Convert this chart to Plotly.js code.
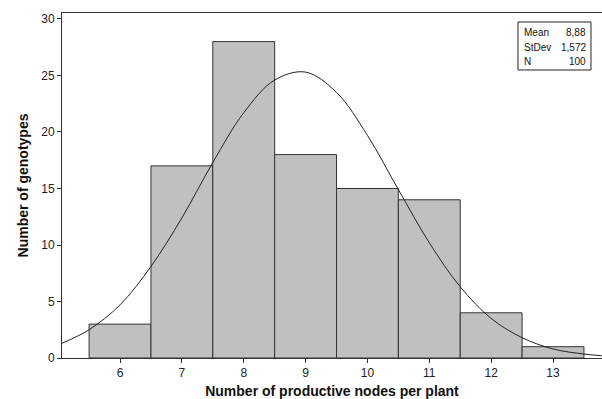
<!DOCTYPE html>
<html>
<head>
<meta charset="utf-8">
<script src="https://cdn.plot.ly/plotly-3.0.1.min.js"></script>
<style>html,body{margin:0;padding:0;background:#fff;}#chart{width:602px;height:399px;}</style>
</head>
<body>
<div id="chart"></div>
<script>
// Histogram bins (centres) and counts
var binCentres = [6, 7, 8, 9, 10, 11, 12, 13];
var binCounts  = [3, 17, 28, 18, 15, 14, 4, 1];

// Fitted normal curve
var curveX = [5.06, 5.5, 6, 6.5, 7, 7.5, 8, 8.5, 9, 9.5, 10, 10.5, 11, 11.5, 12, 12.5, 13, 13.5, 13.79];
var curveY = [1.3, 2.5, 4.7, 8.1, 12.4, 17.3, 21.7, 24.6, 25.3, 23.5, 19.7, 14.9, 10.2, 6.3, 3.5, 1.8, 0.8, 0.35, 0.2];

// Summary statistics box
var statLabels = ["Mean", "StDev", "N"];
var statValues = ["8,88", "1,572", "100"];

var xTicks = [6, 7, 8, 9, 10, 11, 12, 13];
var yTicks = [0, 5, 10, 15, 20, 25, 30];

var traces = [
  {
    type: 'bar', x: binCentres, y: binCounts, width: 1,
    marker: {color: '#c0c0c0', line: {color: '#333333', width: 1}},
    hoverinfo: 'x+y'
  },
  {
    type: 'scatter', mode: 'lines', x: curveX, y: curveY,
    line: {color: '#222222', width: 1, shape: 'spline'},
    hoverinfo: 'skip'
  }
];

var rowY = [0.9449, 0.9014, 0.858];
var annotations = [];
for (var i = 0; i < statLabels.length; i++) {
  annotations.push({xref: 'paper', yref: 'paper', x: 0.8519, y: rowY[i], xanchor: 'left', yanchor: 'middle',
    text: statLabels[i], showarrow: false, font: {family: 'Liberation Sans, Arial, sans-serif', size: 10, color: '#111'}});
  annotations.push({xref: 'paper', yref: 'paper', x: 0.974, y: rowY[i], xanchor: 'right', yanchor: 'middle',
    text: statValues[i], showarrow: false, font: {family: 'Liberation Sans, Arial, sans-serif', size: 10, color: '#111'}});
}

var layout = {
  width: 602, height: 399,
  margin: {l: 62, r: 0, t: 13, b: 41},
  paper_bgcolor: '#ffffff', plot_bgcolor: '#ffffff',
  showlegend: false,
  bargap: 0,
  font: {family: 'Liberation Sans, Arial, sans-serif', size: 12, color: '#222'},
  xaxis: {
    range: [5.062, 13.792], tickvals: xTicks, ticktext: xTicks.map(String),
    showgrid: false, zeroline: false, showline: true, mirror: true, linecolor: '#333', linewidth: 1,
    ticks: 'outside', ticklen: 4, tickcolor: '#333',
    tickfont: {family: 'Liberation Sans, Arial, sans-serif', size: 12, color: '#222'},
    title: {text: 'Number of productive nodes per plant', standoff: 6,
      font: {family: 'Liberation Sans, Arial, sans-serif', size: 14, color: '#111', weight: 'bold'}}
  },
  yaxis: {
    range: [0, 30.53], tickvals: yTicks, ticktext: yTicks.map(String),
    showgrid: false, zeroline: false, showline: true, linecolor: '#333', linewidth: 1,
    ticks: 'outside', ticklen: 4, tickcolor: '#333',
    tickfont: {family: 'Liberation Sans, Arial, sans-serif', size: 12, color: '#222'},
    title: {text: 'Number of genotypes', standoff: 9,
      font: {family: 'Liberation Sans, Arial, sans-serif', size: 14, color: '#111', weight: 'bold'}}
  },
  shapes: [{type: 'rect', xref: 'paper', yref: 'paper', x0: 0.8444, x1: 0.9796, y0: 0.8348, y1: 0.9739,
    line: {color: '#222', width: 1}, fillcolor: 'rgba(0,0,0,0)'}],
  annotations: annotations
};

Plotly.newPlot('chart', traces, layout, {displayModeBar: false, staticPlot: true});
</script>
</body>
</html>
